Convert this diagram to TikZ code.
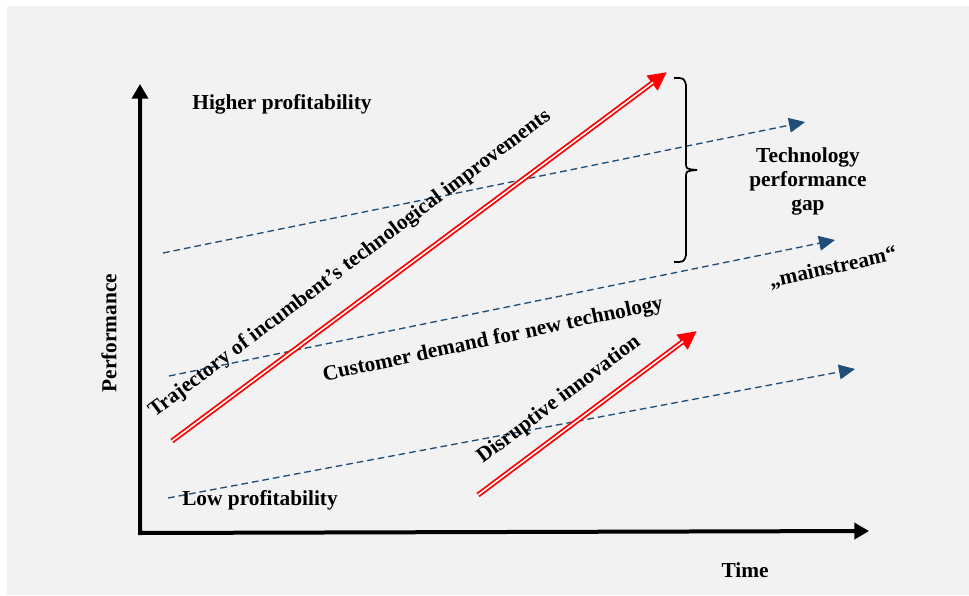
\documentclass[tikz,border=0pt]{standalone}
\usepackage{fontspec}
\setmainfont{Liberation Serif}
\usetikzlibrary{arrows.meta,calc}
\definecolor{bg}{HTML}{F2F2F2}
\definecolor{dashblue}{HTML}{1F4E79}
\begin{document}
\begin{tikzpicture}[x=0.75pt,y=-0.75pt,
  lbl/.style={font=\fontsize{16}{18}\selectfont\bfseries, inner sep=0pt, text=black},
  axisline/.style={line width=3pt, line join=miter},
  trend/.style={dashblue, line width=1pt, dash pattern=on 5pt off 3pt, -{Triangle[length=12pt,width=11pt]}},
  redouter/.style={red, line width=3.9pt, -{Triangle[length=14pt,width=13pt]}},
  redinner/.style={white, line width=1.2pt, shorten >=13pt}]
\useasboundingbox (0,0) rectangle (969,595);
\fill[bg] (7,6) rectangle (969,595);

% axes
\coordinate (O) at (140,533);
\coordinate (ytip) at (140,84);
\coordinate (xtip) at (869,531);
\draw[axisline, {Triangle[length=11pt,width=12pt]}-{Triangle[length=11pt,width=12pt]}] (ytip) -- (O) -- (xtip);

% dashed trend lines
\coordinate (d1s) at (163,253); \coordinate (d1e) at (805,122);
\coordinate (d2s) at (169,376); \coordinate (d2e) at (835,240);
\coordinate (d3s) at (168,498); \coordinate (d3e) at (855,369);
\draw[trend] (d1s) -- (d1e);
\draw[trend] (d2s) -- (d2e);
\draw[trend] (d3s) -- (d3e);

% red double arrows
\coordinate (r1s) at (172,441); \coordinate (r1e) at (667,72);
\coordinate (r2s) at (478,495); \coordinate (r2e) at (697,331);
\draw[redouter] (r1s) -- (r1e);
\draw[redinner] (r1s) -- (r1e);
\draw[redouter] (r2s) -- (r2e);
\draw[redinner] (r2s) -- (r2e);

% bracket
\coordinate (brtop) at (674,78);
\coordinate (brmid) at (697,170);
\coordinate (brbot) at (674,262);
\draw[line width=1.3pt] (brtop) .. controls (684,78) .. (686,85) -- (686,163)
  .. controls (686,169) .. (brmid) .. controls (686,171) .. (686,177) -- (686,255)
  .. controls (684,262) .. (brbot);

% labels
\node[lbl] (hp) at (282,104) {Higher profitability};
\node[lbl] (lp) at (260,500) {Low profitability};
\node[lbl] (time) at (745,570) {Time};
\node[lbl, rotate=90] (perf) at (109,333) {Performance};
\node[lbl, align=center] (gap) at (808,181) {Technology\\performance\\gap};
\node[lbl, rotate=12.5] (main) at (833,268) {„mainstream“};
\node[lbl, rotate=12] (cust) at (493,340) {Customer demand for new technology};
\node[lbl, rotate=37] (traj) at (350,264) {Trajectory of incumbent’s technological improvements};
\node[lbl, rotate=37] (dis) at (559,400) {Disruptive innovation};
\end{tikzpicture}
\end{document}
